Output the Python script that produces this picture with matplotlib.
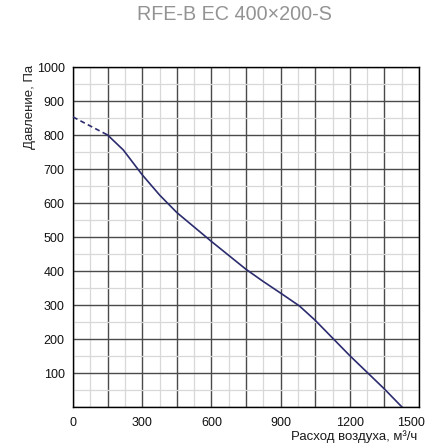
import numpy as np
import matplotlib

matplotlib.use("Agg")
import matplotlib.pyplot as plt
from matplotlib.ticker import MultipleLocator, FuncFormatter
import matplotlib.transforms as mtransforms

plt.rcParams["font.family"] = ["Liberation Sans", "DejaVu Sans"]

# extrapolated (dashed) part of the curve
dash_flow = [0, 150]
dash_pressure = [853, 800]

# working range of the fan
flow = [150, 218, 300, 376, 450, 600, 750, 823, 900, 982, 1050, 1200, 1350, 1426]
pressure = [800, 756, 683, 623, 572, 487, 405, 370, 335, 297, 255, 151, 53, 0]

x_ticks = [0, 300, 600, 900, 1200, 1500]
y_ticks = [100, 200, 300, 400, 500, 600, 700, 800, 900, 1000]

title = "RFE-B EC 400\u00d7200-S"
x_label = "Расход воздуха, м\u00b3/ч"
y_label = "Давление, Па"

curve_color = "#2b2c6e"

fig = plt.figure(figsize=(4.45, 4.48), dpi=100)
ax = fig.add_axes([73 / 445, 1 - 407 / 448, 346 / 445, 340 / 448])

ax.set_xlim(0, 1500)
ax.set_ylim(0, 1000)

# grid: dark lines every 150 / 100, light every 75 / 50
ax.xaxis.set_major_locator(MultipleLocator(150))
ax.xaxis.set_minor_locator(MultipleLocator(75))
ax.yaxis.set_major_locator(MultipleLocator(100))
ax.yaxis.set_minor_locator(MultipleLocator(50))
ax.grid(which="minor", color="#d8d8d8", linewidth=0.9, zorder=0)
ax.grid(which="major", color="#4a4a4a", linewidth=1.0, zorder=1)
ax.set_axisbelow(True)

ax.plot(dash_flow, dash_pressure, color=curve_color, linewidth=1.2,
        dashes=(3, 2), zorder=3, clip_on=False)
ax.plot(flow, pressure, color=curve_color, linewidth=1.2, zorder=3)

# only some of the dark gridlines get a label
ax.xaxis.set_major_formatter(
    FuncFormatter(lambda v, p: str(int(v)) if int(v) in x_ticks else "")
)
ax.yaxis.set_major_formatter(
    FuncFormatter(lambda v, p: str(int(v)) if int(v) in y_ticks else "")
)
ax.tick_params(which="both", length=0)
ax.tick_params(axis="x", pad=7, labelsize=9, labelcolor="#111111")
ax.tick_params(axis="y", pad=6, labelsize=9, labelcolor="#111111")

for spine in ax.spines.values():
    spine.set_color("black")
    spine.set_linewidth(1.0)

# last x label sits a bit to the left, inside the frame
fig.canvas.draw()
for lbl in ax.get_xticklabels():
    if lbl.get_text() == "1500":
        lbl.set_transform(lbl.get_transform() + mtransforms.ScaledTranslation(
            -8 / 100, 0, fig.dpi_scale_trans))

fig.text(234.5 / 445, 1 - 15 / 448, title, ha="center", va="center",
         fontsize=14.2, color="#939393")
fig.text(30 / 445, 1 - 65 / 448, y_label, rotation=90, ha="center", va="top",
         fontsize=9.5, color="#222222")
fig.text(417 / 445, 1 - 437 / 448, x_label, ha="right", va="center",
         fontsize=9.5, color="#1a1a1a")

fig.savefig("out.png", dpi=100)
